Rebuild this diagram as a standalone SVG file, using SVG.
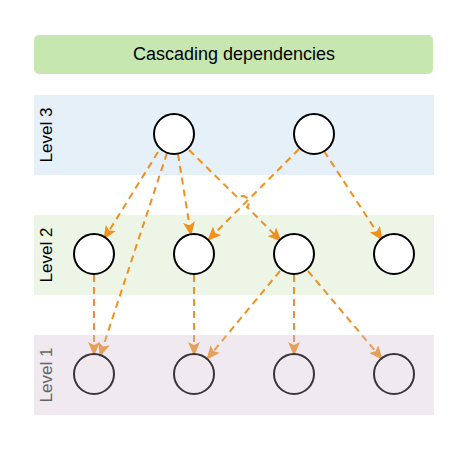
<svg xmlns="http://www.w3.org/2000/svg" width="468" height="449" viewBox="0 0 468 449">
<style>
.lbl{font-family:"Liberation Sans",Arial,sans-serif;font-size:17px;text-anchor:middle;dominant-baseline:central}
.title{font-size:18px}
.node{fill:#fff;stroke:#000;stroke-width:2}
.node1{fill:none;stroke:#3a3338;stroke-width:2}
.edge{fill:none;stroke:#f0901e;stroke-width:2;stroke-dasharray:7 5;marker-end:url(#ah)}
</style>
<defs>
<marker id="ah" viewBox="0 0 14 12" refX="13" refY="6" markerWidth="14" markerHeight="12" markerUnits="userSpaceOnUse" orient="auto">
<path d="M0,0 L14,6 L0,12 L3,6 Z" fill="#f0901e"/>
</marker>
</defs>
<rect width="468" height="449" fill="#fff"/>
<g id="title">
<rect x="34" y="35" width="399" height="39" rx="5" fill="#c6e7b0"/>
<text class="lbl title" x="234" y="54">Cascading dependencies</text>
</g>
<g id="level3">
<rect x="34" y="95" width="400" height="80" fill="#e6f0f9"/>
<text class="lbl" transform="translate(46,135) rotate(-90)">Level 3</text>
</g>
<g id="level2">
<rect x="34" y="215" width="400" height="80" fill="#edf6e6"/>
<text class="lbl" transform="translate(46,255) rotate(-90)">Level 2</text>
</g>
<g id="connectors">
<path class="edge" d="M158,152 L104,239"/>
<path class="edge" d="M167,153 L100,356"/>
<path class="edge" d="M178,154 L191,235"/>
<path class="edge" d="M189,150 L238,198 A4.5,4.5 0 0 1 247,207 L281,241"/>
<path class="edge" d="M299,149 L208,240"/>
<path class="edge" d="M324,151 L382,240"/>
<path class="edge" d="M94,275 L94,355"/>
<path class="edge" d="M194,275 L194,355"/>
<path class="edge" d="M280,271 L207,359"/>
<path class="edge" d="M294,275 L294,355"/>
<path class="edge" d="M308,271 L382,359"/>
</g>
<g id="level1">
<rect x="34" y="335" width="400" height="80" fill="rgb(212,192,212)" fill-opacity="0.35"/>
<text class="lbl" fill="#666" transform="translate(46,375) rotate(-90)">Level 1</text>
</g>
<g id="n3a"><circle class="node" cx="174" cy="134" r="20"/></g>
<g id="n3b"><circle class="node" cx="314" cy="134" r="20"/></g>
<g id="n2a"><circle class="node" cx="94" cy="254" r="20"/></g>
<g id="n2b"><circle class="node" cx="194" cy="254" r="20"/></g>
<g id="n2c"><circle class="node" cx="294" cy="254" r="20"/></g>
<g id="n2d"><circle class="node" cx="394" cy="254" r="20"/></g>
<g id="n1a"><circle class="node1" cx="94" cy="374" r="20"/></g>
<g id="n1b"><circle class="node1" cx="194" cy="374" r="20"/></g>
<g id="n1c"><circle class="node1" cx="294" cy="374" r="20"/></g>
<g id="n1d"><circle class="node1" cx="394" cy="374" r="20"/></g>
</svg>
